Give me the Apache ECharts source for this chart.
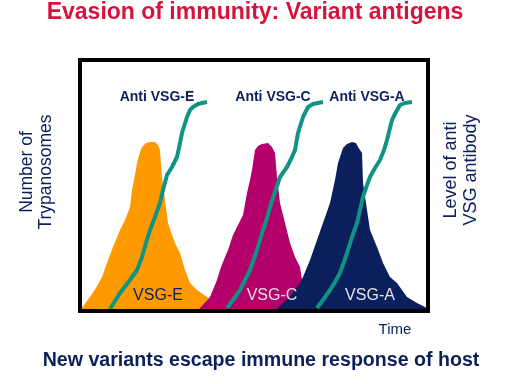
<!DOCTYPE html>
<html>
<head>
<meta charset="utf-8">
<script src="https://cdn.jsdelivr.net/npm/echarts@6/dist/echarts.min.js"></script>
<style>html,body{margin:0;padding:0;background:#fff}#c{width:512px;height:384px}</style>
</head>
<body>
<div id="c"></div>
<script>
// Time units across the frame, population / antibody level up the frame
var peakE = [[1,2],[3,4],[10,14],[16,23],[22,34],[27,48],[33,64],[40,81],[45,91],[50,104],[52,121],[55,136],[57,148],[60,159],[62,164],[66,168],[70,169],[75,169],[78,166],[80,161],[81,146],[82,134],[85,111],[88,88],[92,76],[95,68],[100,58],[105,41],[110,28],[117,21],[127,14],[133,8],[140,3],[145,0]];
var peakC = [[118,0],[120,3],[130,14],[137,31],[140,41],[143,49],[148,61],[153,76],[158,86],[163,96],[167,118],[170,131],[172,141],[175,161],[178,165],[182,167],[188,168],[192,164],[195,158],[196,146],[197,134],[200,108],[205,88],[210,68],[215,54],[220,44],[222,31],[228,19],[235,8],[242,0]];
var peakA = [[196,0],[198,3],[210,15],[220,28],[223,34],[230,51],[237,71],[243,88],[250,108],[255,131],[258,148],[263,163],[267,167],[272,169],[276,168],[278,164],[282,158],[283,128],[287,101],[290,81],[297,64],[303,48],[310,34],[317,28],[327,14],[337,8],[345,4],[348,2]];
var antiE = [[30,2],[40,18],[50,31],[57,41],[62,54],[66,68],[70,81],[75,94],[80,108],[83,121],[87,136],[92,144],[97,154],[100,168],[102,178],[107,194],[110,201],[113,204],[118,207],[122,208],[127,209]];
var antiC = [[147,3],[153,11],[160,21],[165,31],[170,41],[177,61],[183,81],[187,93],[190,104],[195,119],[200,134],[207,144],[212,154],[215,161],[218,178],[223,194],[228,204],[233,207],[238,208],[243,209]];
var antiA = [[237,3],[243,11],[250,21],[255,29],[260,38],[264,49],[268,61],[272,74],[277,88],[280,101],[283,114],[287,126],[290,134],[295,143],[300,151],[304,161],[307,171],[312,191],[316,199],[320,206],[325,208],[332,209]];
var peakNames = ['VSG-E','VSG-C','VSG-A'];
var antiNames = ['Anti VSG-E','Anti VSG-C','Anti VSG-A'];

var NAVY = '#0b1f5c', TEAL = '#0f9484';
var peakColors = ['#ff9900','#b3006b','#0b1f5c'];

function area(name, data, color){
  return {type:'line', name:name, data:data, symbol:'none', smooth:false,
    lineStyle:{width:0, color:color}, areaStyle:{color:color, opacity:1}, z:2, silent:true};
}
function anti(name, data){
  return {type:'line', name:name, data:data, symbol:'none', smooth:false,
    lineStyle:{width:4, color:TEAL}, z:3, silent:true};
}

var chart = echarts.init(document.getElementById('c'), null, {renderer:'canvas'});
chart.setOption({
  animation:false,
  backgroundColor:'#fff',
  grid:{left:80, top:60, width:348, height:251, show:true, borderColor:'#000', borderWidth:4, backgroundColor:'transparent', z:5},
  xAxis:{type:'value', min:0, max:348, show:false},
  yAxis:{type:'value', min:0, max:251, show:false},
  series:[
    area(peakNames[0], peakE, peakColors[0]),
    area(peakNames[1], peakC, peakColors[1]),
    area(peakNames[2], peakA, peakColors[2]),
    anti(antiNames[0], antiE),
    anti(antiNames[1], antiC),
    anti(antiNames[2], antiA)
  ],
  graphic:[
    {type:'text', x:255, y:13, z:10, style:{text:'Evasion of immunity: Variant antigens', fill:'#d4143c', font:'bold 23px "Liberation Sans", Arial, sans-serif', align:'center', verticalAlign:'middle'}},
    {type:'text', x:261, y:361, z:10, style:{text:'New variants escape immune response of host', fill:NAVY, font:'bold 19.6px "Liberation Sans", Arial, sans-serif', align:'center', verticalAlign:'middle'}},
    {type:'text', x:395, y:330, z:10, style:{text:'Time', fill:NAVY, font:'15px "Liberation Sans", Arial, sans-serif', align:'center', verticalAlign:'middle'}},
    {type:'text', x:37, y:172, rotation:Math.PI/2, z:10, style:{text:'Number of\nTrypanosomes', fill:NAVY, font:'17.5px "Liberation Sans", Arial, sans-serif', lineHeight:19, align:'center', verticalAlign:'middle'}},
    {type:'text', x:461, y:170, rotation:Math.PI/2, z:10, style:{text:'Level of anti\nVSG antibody', fill:NAVY, font:'18px "Liberation Sans", Arial, sans-serif', lineHeight:20, align:'center', verticalAlign:'middle'}},
    {type:'text', x:157, y:97, z:10, style:{text:antiNames[0], fill:NAVY, font:'bold 14px "Liberation Sans", Arial, sans-serif', align:'center', verticalAlign:'middle'}},
    {type:'text', x:273, y:97, z:10, style:{text:antiNames[1], fill:NAVY, font:'bold 14px "Liberation Sans", Arial, sans-serif', align:'center', verticalAlign:'middle'}},
    {type:'text', x:367, y:97, z:10, style:{text:antiNames[2], fill:NAVY, font:'bold 14px "Liberation Sans", Arial, sans-serif', align:'center', verticalAlign:'middle'}},
    {type:'text', x:158, y:296, z:10, style:{text:peakNames[0], fill:NAVY, font:'16px "Liberation Sans", Arial, sans-serif', align:'center', verticalAlign:'middle'}},
    {type:'text', x:272, y:296, z:10, style:{text:peakNames[1], fill:'#e2e2e2', font:'16px "Liberation Sans", Arial, sans-serif', align:'center', verticalAlign:'middle'}},
    {type:'text', x:370, y:296, z:10, style:{text:peakNames[2], fill:'#e2e2e2', font:'16px "Liberation Sans", Arial, sans-serif', align:'center', verticalAlign:'middle'}}
  ]
});
</script>
</body>
</html>
